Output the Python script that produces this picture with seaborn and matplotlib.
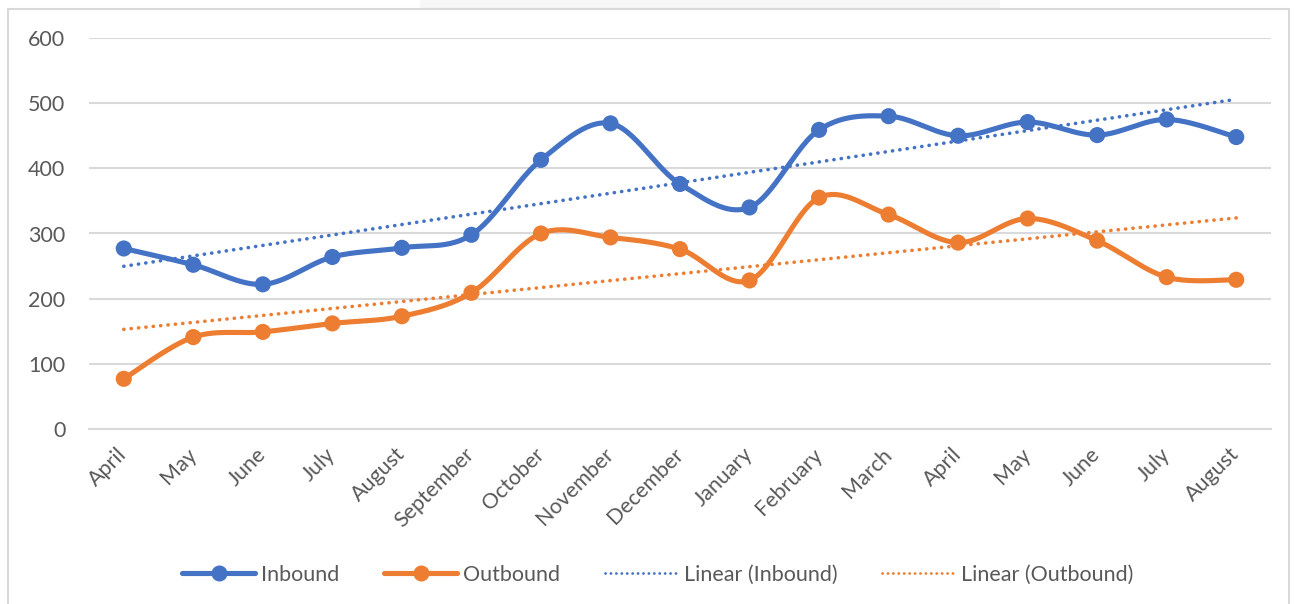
import numpy as np
import pandas as pd
import matplotlib
matplotlib.use("Agg")
import matplotlib.pyplot as plt
from matplotlib.lines import Line2D
from matplotlib.patches import Rectangle
import seaborn as sns

months = ["April", "May", "June", "July", "August", "September", "October",
          "November", "December", "January", "February", "March", "April",
          "May", "June", "July", "August"]
inbound = [277, 252, 222, 264, 278, 298, 413, 469, 376, 340, 459, 480, 450, 471, 451, 475, 448]
outbound = [77, 141, 149, 162, 173, 209, 300, 294, 276, 228, 355, 329, 286, 323, 289, 233, 229]
y_ticks = [0, 100, 200, 300, 400, 500, 600]

BLUE = "#4472C4"
ORANGE = "#ED7D31"
TEXT = "#595959"
GRID = "#D9D9D9"

sns.set_theme(style="white")
plt.rcParams["font.family"] = ["Lato", "DejaVu Sans"]

x = np.arange(len(months))
df = pd.DataFrame({"x": x, "Inbound": inbound, "Outbound": outbound})


def smooth(xs, ys, n=30):
    xs = np.asarray(xs, float)
    ys = np.asarray(ys, float)
    px = np.concatenate([[xs[0]], xs, [xs[-1]]])
    py = np.concatenate([[ys[0]], ys, [ys[-1]]])
    ox, oy = [], []
    t = np.linspace(0, 1, n)
    for i in range(1, len(px) - 2):
        p0 = np.array([px[i], py[i]])
        p3 = np.array([px[i + 1], py[i + 1]])
        c1 = p0 + (np.array([px[i + 1], py[i + 1]]) - np.array([px[i - 1], py[i - 1]])) / 6
        c2 = p3 - (np.array([px[i + 2], py[i + 2]]) - np.array([px[i], py[i]])) / 6
        b = ((1 - t) ** 3)[:, None] * p0 + (3 * (1 - t) ** 2 * t)[:, None] * c1 \
            + (3 * (1 - t) * t ** 2)[:, None] * c2 + (t ** 3)[:, None] * p3
        ox.extend(b[:, 0])
        oy.extend(b[:, 1])
    return np.array(ox), np.array(oy)


fig = plt.figure(figsize=(12.95, 6.04), dpi=100)
ax = fig.add_axes([89 / 1295, 1 - 429 / 604, (1271 - 89) / 1295, (429 - 38) / 604])

# chart border and top band
fig.patches.append(Rectangle((420 / 1295, 1 - 9 / 604), 580 / 1295, 9 / 604,
                             transform=fig.transFigure, facecolor="#F6F6F6",
                             edgecolor="none", zorder=-1))
fig.patches.append(Rectangle((8 / 1295, -0.05), (1289 - 8) / 1295, 1.05 - 9 / 604,
                             transform=fig.transFigure, facecolor="none",
                             edgecolor=GRID, linewidth=1.5, zorder=0))

lw = 3.7
for col, color in [("Inbound", BLUE), ("Outbound", ORANGE)]:
    sx, sy = smooth(df["x"], df[col])
    ax.plot(sx, sy, color=color, lw=lw, solid_capstyle="round", zorder=3)
    sns.scatterplot(data=df, x="x", y=col, ax=ax, color=color, s=135,
                    edgecolor="none", zorder=4, legend=False)
    k, b0 = np.polyfit(df["x"], df[col], 1)
    ax.plot(x, k * x + b0, color=color, lw=2.6,
            linestyle=(0, (0.05, 2.0)), dash_capstyle="round", zorder=2)

ax.set_xlim(-0.5, len(months) - 0.5)
ax.set_ylim(0, 600)
ax.set_yticks(y_ticks)
ax.set_xticks(x)
ax.set_xticklabels(months, rotation=45, ha="right", va="center",
                   rotation_mode="anchor")
ax.tick_params(axis="both", length=0, labelsize=15.5, labelcolor=TEXT)
ax.tick_params(axis="y", pad=17)
ax.tick_params(axis="x", pad=16)
ax.grid(axis="y", color=GRID, lw=1.5)
ax.set_axisbelow(True)
for s in ["top", "right", "left"]:
    ax.spines[s].set_visible(False)
ax.spines["bottom"].set_color(GRID)
ax.spines["bottom"].set_linewidth(1.5)
ax.set_xlabel("")
ax.set_ylabel("")

handles = [
    Line2D([], [], color=BLUE, lw=lw, marker="o", markersize=10.5),
    Line2D([], [], color=ORANGE, lw=lw, marker="o", markersize=10.5),
    Line2D([], [], color=BLUE, lw=2.0, linestyle=(0, (0.05, 1.9)), dash_capstyle="round"),
    Line2D([], [], color=ORANGE, lw=2.0, linestyle=(0, (0.05, 1.9)), dash_capstyle="round"),
]
labels = ["Inbound", "Outbound", "Linear (Inbound)", "Linear (Outbound)"]
leg = fig.legend(handles, labels, loc="center", bbox_to_anchor=(0.508, 1 - 575 / 604),
                 ncol=4, frameon=False, fontsize=15.5, handlelength=3.4,
                 handletextpad=0.25, columnspacing=2.1, numpoints=1)
for t in leg.get_texts():
    t.set_color(TEXT)

fig.savefig("out.png", dpi=100, facecolor="white")
